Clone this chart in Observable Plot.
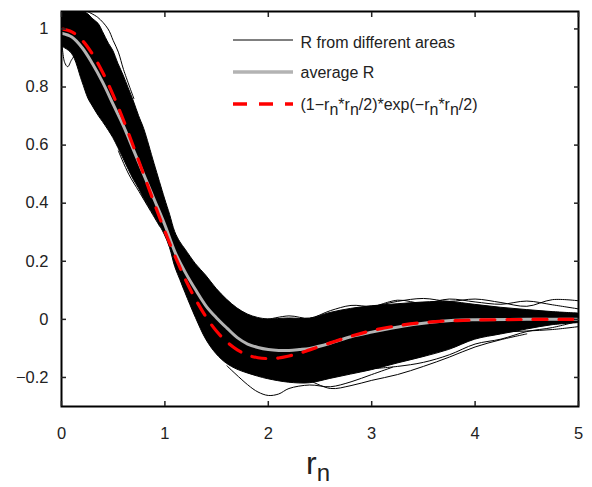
<!DOCTYPE html>
<html>
<head>
<meta charset="utf-8">
<script src="https://cdn.jsdelivr.net/npm/d3@7"></script>
<script src="https://cdn.jsdelivr.net/npm/@observablehq/plot@0.6"></script>
<style>
  html, body { margin: 0; padding: 0; background: #fff; }
  #chart { width: 592px; height: 487px; }
  svg { font-family: "Liberation Sans", Arial, Helvetica, sans-serif; }
</style>
</head>
<body>
<div id="chart"></div>
<script>
// ---------- data ----------
const xTicks = [0, 1, 2, 3, 4, 5];
const yTicks = [-0.2, 0, 0.2, 0.4, 0.6, 0.8, 1];
const yTickLabels = ["\u22120.2", "0", "0.2", "0.4", "0.6", "0.8", "1"];

// envelope of the dense bundle of "R from different areas"
const bandR  = [0, 0.1, 0.2, 0.26, 0.3, 0.36, 0.4, 0.46, 0.5, 0.55, 0.6, 0.65, 0.7, 0.75, 0.8, 0.9, 1.0, 1.05, 1.1, 1.15, 1.2, 1.3, 1.4, 1.5, 1.6, 1.7, 1.8, 1.9, 2.0, 2.2, 2.4, 2.6, 2.8, 3.0, 3.25, 3.5, 3.75, 4.0, 4.25, 4.5, 4.75, 5.0];
const bandHi = [1.06, 1.06, 1.06, 1.05, 1.035, 1.017, 0.99, 0.948, 0.925, 0.88, 0.84, 0.795, 0.75, 0.70, 0.655, 0.535, 0.416, 0.36, 0.30, 0.265, 0.24, 0.19, 0.15, 0.105, 0.068, 0.038, 0.017, 0.005, 0.0, 0.003, 0.002, 0.022, 0.036, 0.045, 0.052, 0.058, 0.06, 0.05, 0.04, 0.032, 0.025, 0.02];
const bandLo = [0.94, 0.915, 0.82, 0.76, 0.735, 0.70, 0.68, 0.648, 0.625, 0.59, 0.553, 0.515, 0.48, 0.45, 0.415, 0.355, 0.29, 0.245, 0.18, 0.135, 0.09, 0.005, -0.07, -0.12, -0.153, -0.173, -0.186, -0.197, -0.206, -0.218, -0.22, -0.205, -0.19, -0.175, -0.152, -0.13, -0.105, -0.07, -0.052, -0.035, -0.02, -0.013];

// individual curves standing out of the bundle
const stray1R = [1.6, 1.8, 1.9, 2.0, 2.1, 2.2, 2.4, 2.6, 2.8, 3.0, 3.2];
const stray1V = [-0.16, -0.225, -0.25, -0.262, -0.257, -0.238, -0.226, -0.232, -0.215, -0.19, -0.165];
const stray2R = [2.4, 2.6, 2.8, 3.0, 3.25, 3.5, 3.75, 4.0, 4.25, 4.5];
const stray2V = [-0.21, -0.238, -0.228, -0.21, -0.19, -0.162, -0.13, -0.095, -0.07, -0.05];
const stray3R = [2.0, 2.2, 2.4, 2.6, 2.8, 3.0, 3.25, 3.5, 3.75, 4.0, 4.25, 4.5, 4.75, 5.0];
const stray3V = [0.0, 0.012, 0.004, 0.03, 0.048, 0.045, 0.062, 0.072, 0.062, 0.07, 0.058, 0.045, 0.068, 0.064];
const stray4R = [3.0, 3.25, 3.5, 3.75, 4.0, 4.25, 4.5, 4.75, 5.0];
const stray4V = [0.04, 0.066, 0.055, 0.07, 0.06, 0.052, 0.063, 0.05, 0.036];
const stray5R = [3.0, 3.25, 3.5, 3.75, 4.0, 4.25, 4.5, 4.75, 5.0];
const stray5V = [-0.17, -0.162, -0.148, -0.122, -0.085, -0.068, -0.042, -0.028, -0.006];
const stray6R = [0, 0.03, 0.06, 0.1, 0.15, 0.2];
const stray6V = [0.97, 0.885, 0.87, 0.895, 0.915, 0.86];
const stray7R = [0.25, 0.35, 0.45, 0.5, 0.55, 0.6, 0.7];
const stray7V = [1.06, 1.04, 1.0, 0.96, 0.92, 0.86, 0.76];
const stray8R = [4.0, 4.25, 4.5, 4.75, 5.0];
const stray8V = [-0.06, -0.045, -0.04, -0.035, -0.025];
const stray9R = [0.55, 0.65, 0.75, 0.85, 0.95];
const stray9V = [0.58, 0.50, 0.44, 0.38, 0.32];

// average R (grey)
const avgR = [0, 0.1, 0.2, 0.3, 0.4, 0.5, 0.6, 0.7, 0.8, 0.9, 1.0, 1.1, 1.2, 1.3, 1.4, 1.5, 1.6, 1.7, 1.8, 1.9, 2.0, 2.1, 2.2, 2.3, 2.4, 2.6, 2.8, 3.0, 3.2, 3.4, 3.6, 3.8, 4.0, 4.5, 5.0];
const avgV = [0.985, 0.972, 0.935, 0.88, 0.815, 0.74, 0.665, 0.58, 0.495, 0.41, 0.325, 0.23, 0.16, 0.10, 0.045, 0.005, -0.03, -0.063, -0.085, -0.097, -0.104, -0.107, -0.107, -0.104, -0.1, -0.082, -0.06, -0.044, -0.03, -0.018, -0.009, -0.003, -0.001, 0.0, 0.0];

// (1-rn*rn/2)*exp(-rn*rn/2) curve (red dashed)
const modelR = [0, 0.1, 0.2, 0.3, 0.4, 0.5, 0.6, 0.7, 0.8, 0.9, 1.0, 1.1, 1.2, 1.3, 1.4, 1.5, 1.6, 1.7, 1.8, 1.9, 2.0, 2.1, 2.2, 2.3, 2.4, 2.6, 2.8, 3.0, 3.25, 3.5, 3.75, 4.0, 4.5, 5.0];
const modelV = [1.0, 0.990, 0.961, 0.913, 0.849, 0.772, 0.685, 0.591, 0.494, 0.397, 0.303, 0.216, 0.136, 0.067, 0.0075, -0.041, -0.078, -0.105, -0.123, -0.132, -0.135, -0.133, -0.126, -0.117, -0.105, -0.081, -0.058, -0.039, -0.022, -0.011, -0.0053, -0.0023, -0.0004, 0.0];

const legendLabels = ["R from different areas", "average R"];

// ---------- build tables ----------
const band = bandR.map((r, i) => ({r, hi: bandHi[i], lo: bandLo[i]}));
const toRows = (R, V) => R.map((r, i) => ({r, v: V[i]}));
const strays = [
  toRows(stray1R, stray1V), toRows(stray2R, stray2V), toRows(stray3R, stray3V),
  toRows(stray4R, stray4V), toRows(stray5R, stray5V), toRows(stray6R, stray6V),
  toRows(stray7R, stray7V), toRows(stray8R, stray8V), toRows(stray9R, stray9V)
];
const avg = toRows(avgR, avgV);
const model = toRows(modelR, modelV);
const yFmt = d => yTickLabels[yTicks.findIndex(t => Math.abs(t - d) < 1e-9)];

const chart = Plot.plot({
  width: 592,
  height: 487,
  marginLeft: 61,
  marginRight: 14,
  marginTop: 11,
  marginBottom: 81,
  style: {fontFamily: "'Liberation Sans', Arial, Helvetica, sans-serif", fontSize: "16.5px", color: "#222", background: "#fff", overflow: "visible"},
  x: {domain: [0, 5]},
  y: {domain: [-0.3, 1.06]},
  marks: [
    Plot.areaY(band, {x: "r", y1: "lo", y2: "hi", fill: "black", stroke: "black", strokeWidth: 1, curve: "catmull-rom", clip: true}),
    ...strays.map(s => Plot.line(s, {x: "r", y: "v", stroke: "black", strokeWidth: 1, curve: "catmull-rom", clip: true})),
    Plot.line(avg, {x: "r", y: "v", stroke: "#b3b3b3", strokeWidth: 3, curve: "catmull-rom", clip: true}),
    Plot.line(model, {x: "r", y: "v", stroke: "#ff0000", strokeWidth: 3.2, strokeDasharray: "14,12", curve: "catmull-rom", clip: true}),
    Plot.frame({stroke: "black", strokeWidth: 2}),
    Plot.axisX({anchor: "bottom", ticks: xTicks, tickSize: -5, tickPadding: 26, strokeWidth: 1.5, label: null, tickFormat: d => String(d)}),
    Plot.axisX({anchor: "top", ticks: xTicks, tickSize: -5, strokeWidth: 1.5, label: null, tickFormat: () => ""}),
    Plot.axisY({anchor: "left", ticks: yTicks, tickSize: -5, tickPadding: 18, strokeWidth: 1.5, label: null, tickFormat: yFmt}),
    Plot.axisY({anchor: "right", ticks: yTicks, tickSize: -5, strokeWidth: 1.5, label: null, tickFormat: () => ""})
  ]
});
document.getElementById("chart").appendChild(chart);

// ---------- legend and axis label (added into the svg) ----------
const svg = d3.select(chart);
const font = "'Liberation Sans', Arial, Helvetica, sans-serif";
const lg = svg.append("g").attr("font-family", font).attr("font-size", 16)
  .attr("fill", "#222").attr("text-anchor", "start");
const rows = [
  {y: 40, stroke: "black", w: 1, dash: null},
  {y: 72, stroke: "#b3b3b3", w: 3.5, dash: null},
  {y: 104, stroke: "#ff0000", w: 3.5, dash: "14,12"}
];
rows.forEach(row => {
  lg.append("line").attr("x1", 233).attr("x2", 293).attr("y1", row.y).attr("y2", row.y)
    .attr("stroke", row.stroke).attr("stroke-width", row.w)
    .attr("stroke-dasharray", row.dash);
});
lg.append("text").attr("x", 300.5).attr("y", 47.5).text(legendLabels[0]);
lg.append("text").attr("x", 300.5).attr("y", 78).text(legendLabels[1]);
const f = lg.append("text").attr("x", 300.5).attr("y", 110);
const parts = [["(1\u2212r", false], ["n", true], ["*r", false], ["n", true], ["/2)*exp(\u2212r", false], ["n", true], ["*r", false], ["n", true], ["/2)", false]];
parts.forEach(([t, sub]) => {
  f.append("tspan").attr("baseline-shift", sub ? "-5" : null).text(t);
});

const xl = svg.append("text").attr("x", 306).attr("y", 474)
  .attr("text-anchor", "start")
  .attr("font-family", font).attr("font-size", 32).attr("fill", "#222");
xl.append("tspan").text("r");
xl.append("tspan").attr("font-size", 24).attr("dy", 7).text("n");
</script>
</body>
</html>
